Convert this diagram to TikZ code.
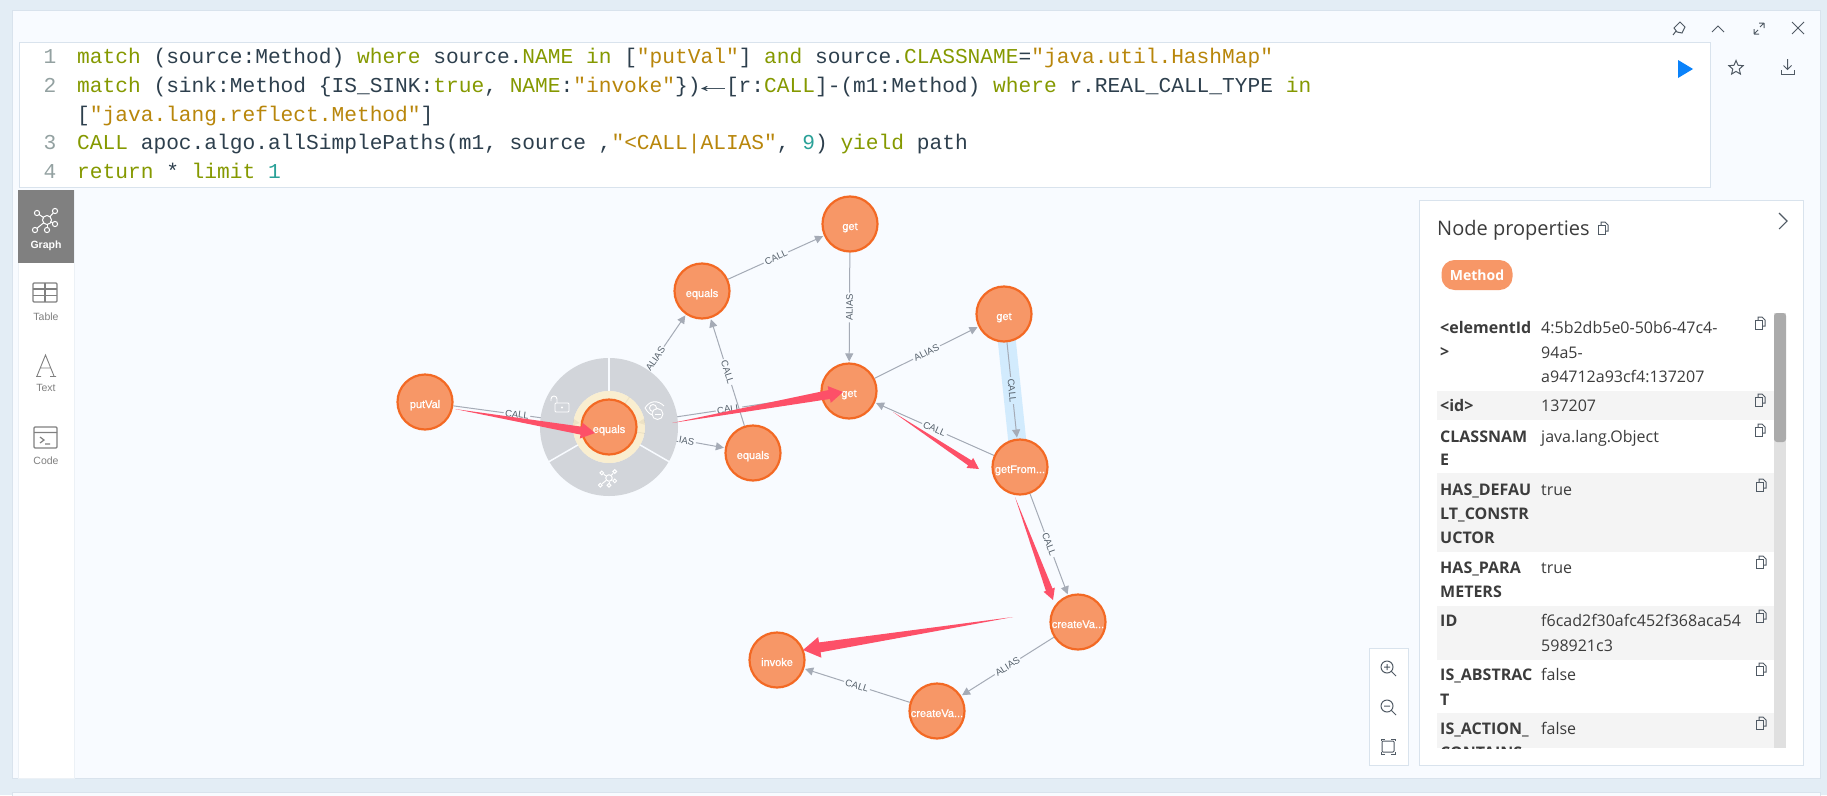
\documentclass[tikz,border=0pt]{standalone}
\usepackage{fontspec}
\setmainfont{Liberation Sans}
\newfontfamily\codefont{Liberation Mono}
\newfontfamily\opensans{Open Sans}
\newfontfamily\nodefont[FakeBold=0.9]{Liberation Sans}
\usetikzlibrary{arrows.meta,backgrounds,calc,shapes.geometric}
\definecolor{pagebg}{RGB}{227,237,245}
\definecolor{panelbg}{RGB}{248,251,255}
\definecolor{edgeline}{RGB}{217,227,237}
\definecolor{nodefill}{RGB}{247,151,103}
\definecolor{nodeline}{RGB}{243,105,36}
\definecolor{relline}{RGB}{165,171,182}
\definecolor{reltext}{RGB}{85,96,107}
\definecolor{bandblue}{RGB}{210,235,253}
\definecolor{trailred}{RGB}{253,80,104}
\definecolor{menugrey}{RGB}{210,213,218}
\definecolor{ringyellow}{RGB}{250,236,200}
\definecolor{kwgreen}{RGB}{133,153,0}
\definecolor{strorange}{RGB}{184,134,11}
\definecolor{numteal}{RGB}{42,161,152}
\definecolor{codedark}{RGB}{45,63,77}
\definecolor{gutter}{RGB}{147,161,161}
\definecolor{sidegrey}{RGB}{128,128,128}
\definecolor{iconc}{RGB}{80,90,100}
\definecolor{rowband}{RGB}{244,244,244}
\definecolor{tabletext}{RGB}{60,60,60}
\definecolor{playblue}{RGB}{10,130,250}
\newcommand{\ckw}[1]{\textcolor{kwgreen}{#1}}
\newcommand{\cstr}[1]{\textcolor{strorange}{#1}}
\newcommand{\cnum}[1]{\textcolor{numteal}{#1}}
\newcommand{\redtrail}[5]{%
  \coordinate (tb) at ($(#2)!#3pt!(#1)$);
  \fill[trailred] (#1) -- ($(tb)!#5pt!90:(#2)$) -- ($(tb)!#4pt!90:(#2)$) -- (#2)
    -- ($(tb)!#4pt!-90:(#2)$) -- ($(tb)!#5pt!-90:(#2)$) -- cycle;}
\tikzset{
  mnode/.style={circle,draw=nodeline,fill=nodefill,line width=2.2pt,minimum size=55pt,inner sep=0pt,
    text=white,text height=14pt,text depth=2pt,font=\nodefont\fontsize{11}{12}\selectfont},
  rel/.style={draw=relline,line width=1pt,shorten >=1pt,-{Triangle[length=8pt,width=8pt]}},
  rellabel/.style={midway,sloped,fill=panelbg,inner sep=1.5pt,text=reltext,font=\fontsize{9.5}{10}\selectfont},
  card/.style={fill=white,draw=edgeline,line width=.7pt},
  codeline/.style={anchor=base west,inner sep=0pt,text=codedark,font=\codefont\fontsize{21.2}{24}\selectfont},
  gutternum/.style={anchor=base,inner sep=0pt,text=gutter,font=\codefont\fontsize{21.2}{24}\selectfont},
  sidelabel/.style={inner sep=0pt,text=sidegrey,font=\fontsize{10.5}{12}\selectfont},
  tkey/.style={anchor=base west,inner sep=0pt,text=tabletext,font=\opensans\fontsize{16}{20}\selectfont\bfseries},
  tval/.style={anchor=base west,inner sep=0pt,text=tabletext,font=\opensans\fontsize{16}{20}\selectfont},
  copyicon/.pic={
    \draw[line width=1pt] (-2,-3) -- (-2,-6) -- (2,-6) -- (5,-3) -- (5,3) -- (2,3);
    \draw[line width=1pt] (-5,-3) rectangle (2,6);},
  graphicon/.pic={
    \foreach \gx/\gy in {-10/-7,8/-9,8/4,0/10,-12/10}{
      \draw[line width=1pt,shorten >=2.4pt,shorten <=3.8pt] (0,0) -- (\gx,\gy);
      \draw[line width=1pt] (\gx,\gy) circle[radius=2.6];}
    \draw[line width=1pt] (0,0) circle[radius=4.5];}
}
\begin{document}
\begin{tikzpicture}[x=1pt,y=-1pt]
  \useasboundingbox (0,0) rectangle (1827,795);
  \node[mnode] (putval) at (425,402) {putVal};
  \node[mnode] (equals1) at (609,427) {equals};
  \node[mnode] (equals2) at (753,453) {equals};
  \node[mnode] (equals3) at (702,291) {equals};
  \node[mnode] (get1) at (850,224) {get};
  \node[mnode] (get2) at (849,391) {get};
  \node[mnode] (get3) at (1004,314) {get};
  \node[mnode] (getfrom) at (1020,467) {getFrom...};
  \node[mnode] (create1) at (1078,622) {createVa...};
  \node[mnode] (create2) at (937,711) {createVa...};
  \node[mnode] (invoke) at (777,660) {invoke};
  \begin{scope}[on background layer]
    \fill[pagebg] (0,0) rectangle (1827,795);
    \fill[panelbg,draw=edgeline] (12,10) rectangle (1820,778);
    \fill[panelbg,draw=edgeline] (12,792) rectangle (1820,800);
    \draw[card] (19,42) rectangle (1710,187);
    \fill[white,draw=edgeline!50] (18,190) rectangle (74,778);
    \fill[sidegrey] (18,190) rectangle (74,263);
    \draw[card] (1419,200) rectangle (1803,765);
    \draw[card] (1369,648) rectangle (1408,765);
    \draw[bandblue,line width=18pt] (get3.center) -- (getfrom.center);
    \draw[rel] (putval) -- node[rellabel] {CALL} (equals1);
    \draw[rel] (get2) -- node[rellabel] {CALL} (equals1);
    \draw[rel] (equals1) -- node[rellabel] {ALIAS} (equals2);
    \draw[rel] (equals1) -- node[rellabel] {ALIAS} (equals3);
    \draw[rel] (equals2) -- node[rellabel] {CALL} (equals3);
    \draw[rel] (equals3) -- node[rellabel] {CALL} (get1);
    \draw[rel] (get1) -- node[rellabel] {ALIAS} (get2);
    \draw[rel] (get2) -- node[rellabel] {ALIAS} (get3);
    \draw[rel] (get3) -- node[rellabel,fill=bandblue] {CALL} (getfrom);
    \draw[rel] (getfrom) -- node[rellabel] {CALL} (get2);
    \draw[rel] (getfrom) -- node[rellabel] {CALL} (create1);
    \draw[rel] (create1) -- node[rellabel] {ALIAS} (create2);
    \draw[rel] (create2) -- node[rellabel] {CALL} (invoke);
    \fill[menugrey,even odd rule] (equals1.center) circle[radius=69] (equals1.center) circle[radius=36];
    \fill[ringyellow,opacity=.85,even odd rule] (equals1.center) circle[radius=36] (equals1.center) circle[radius=28];
    \foreach \menua in {-90,30,150}
      \draw[panelbg,line width=1.5pt] ($(equals1.center)+(\menua:36)$) -- ($(equals1.center)+(\menua:70)$);
  \end{scope}
  \draw[white,line width=.9pt,rounded corners=1pt] (555,403) rectangle (569,412);
  \draw[white,line width=.9pt] (557,403) -- (557,399) arc[start angle=0,end angle=-180,radius=3] -- (551,401);
  \fill[white] (562,407.5) circle[radius=1.2];
  \draw[white,line width=.9pt] (645,408) .. controls (650,400) and (658,400) .. (664,406);
  \draw[white,line width=.9pt] (645,408) .. controls (648,413) and (651,415) .. (653,415);
  \draw[white,line width=.9pt] (653,408) circle[radius=3.5];
  \draw[white,line width=.9pt,fill=menugrey] (657.5,414) circle[radius=5.5];
  \draw[white,line width=.9pt] (654.5,414) -- (660.5,414);
  \pic[color=white,scale=.72] at (609,478) {graphicon};
  \coordinate (t1a) at (455,409);
  \coordinate (t1b) at (595,433);
  \coordinate (t2a) at (672,423);
  \coordinate (t2b) at (843,392);
  \coordinate (t3a) at (893,412);
  \coordinate (t3b) at (979,469);
  \coordinate (t4a) at (1015,497);
  \coordinate (t4b) at (1053,600);
  \coordinate (t5a) at (1013,617);
  \coordinate (t5b) at (803,650);
  \redtrail{t1a}{t1b}{14}{8}{4}
  \redtrail{t2a}{t2b}{14}{8.5}{4.5}
  \redtrail{t3a}{t3b}{11}{6}{3}
  \redtrail{t4a}{t4b}{11}{6}{3.5}
  \redtrail{t5a}{t5b}{17}{10.5}{5}
  \node[gutternum] (num1) at (50,63) {1};
  \node[gutternum] (num2) at (50,92) {2};
  \node[gutternum] (num3) at (50,149) {3};
  \node[gutternum] (num4) at (50,178) {4};
  \node[codeline] (line1) at (77,63) {\ckw{match} (source:Method) \ckw{where} source.\ckw{NAME} \ckw{in} [\cstr{"putVal"}] \ckw{and} source.\ckw{CLASSNAME}=\cstr{"java.util.HashMap"}};
  \node[codeline] (line2) at (77,92) {\ckw{match} (sink:Method \{IS\_SINK:\ckw{true}, \ckw{NAME}:\cstr{"invoke"}\})\makebox[25.44pt][c]{\scalebox{1.9}[1]{←}}[r:\ckw{CALL}]-(m1:Method) \ckw{where} r.REAL\_CALL\_TYPE \ckw{in}};
  \node[codeline] (line2b) at (77,121) {[\cstr{"java.lang.reflect.Method"}]};
  \node[codeline] (line3) at (77,149) {\ckw{CALL} apoc.algo.allSimplePaths(m1, source ,\cstr{"<CALL|ALIAS"}, \cnum{9}) \ckw{yield} path};
  \node[codeline] (line4) at (77,178) {\ckw{return} * \ckw{limit} \cnum{1}};
  \fill[playblue] (1678,60) -- (1693,69) -- (1678,78) -- cycle;
  \node[star,star points=5,star point ratio=2.2,draw=iconc,line width=1pt,minimum size=15pt,inner sep=0pt] (staricon) at (1736,68) {};
  \draw[iconc,line width=1pt] (1787.5,59) -- (1787.5,69) (1783.5,65.5) -- (1787.5,69.5) -- (1791.5,65.5);
  \draw[iconc,line width=1pt] (1781,70) -- (1781,74) -- (1794,74) -- (1794,70);
  \draw[iconc,line width=1pt] (1680,22) -- (1685,27) -- (1682,33) -- (1677,32) -- (1674,28) -- cycle (1676,31) -- (1673,35);
  \draw[iconc,line width=1pt] (1712,32) -- (1718,26) -- (1724,32);
  \draw[iconc,line width=1pt] (1754,34) -- (1754,29) (1754,34) -- (1759,34) (1754,34) -- (1758,30);
  \draw[iconc,line width=1pt] (1764,23) -- (1764,28) (1764,23) -- (1759,23) (1764,23) -- (1760,27);
  \draw[iconc,line width=1pt] (1792,22) -- (1804,34) (1804,22) -- (1792,34);
  \pic[color=white] at (47,220) {graphicon};
  \node[sidelabel,text=white,font=\fontsize{10.5}{12}\selectfont\bfseries] (sidegraph) at (46,246) {Graph};
  \draw[sidegrey,line width=1.3pt,rounded corners=1pt] (33,283) rectangle (57,302);
  \draw[sidegrey,line width=1.3pt] (33,289) -- (57,289) (33,295.5) -- (57,295.5) (45,283) -- (45,302);
  \node[sidelabel] (sidetable) at (46,317) {Table};
  \draw[sidegrey,line width=.9pt] (37,376) -- (45.5,355) -- (54,376) (40,368) -- (51,368) (36,376.5) -- (41,376.5) (50,376.5) -- (56,376.5);
  \node[sidelabel] (sidetext) at (46,388) {Text};
  \draw[sidegrey,line width=1.3pt,rounded corners=1pt] (34,427) rectangle (57,448);
  \draw[sidegrey,line width=1.2pt] (34,432.5) -- (57,432.5) (40,437) -- (44,440) -- (40,443) (45,444) -- (50,444);
  \node[sidelabel] (sidecode) at (46,461) {Code};
  \node[anchor=base west,inner sep=0pt,text=tabletext,font=\opensans\fontsize{20}{24}\selectfont] (proptitle) at (1437,235) {Node properties};
  \pic[color=iconc] at (1603,228) {copyicon};
  \draw[iconc,line width=1.1pt] (1779,213) -- (1787,221) -- (1779,229);
  \node[fill=nodefill,rounded corners=13pt,minimum width=71pt,minimum height=30pt,inner sep=0pt,text=white,font=\opensans\fontsize{14}{16}\selectfont\bfseries] (methodpill) at (1477,275) {Method};
  \foreach \bandt/\bandb in {391/420,473/552,606/660,713/748}
    \fill[rowband] (1437,\bandt) rectangle (1774,\bandb);
  \fill[black!12] (1774,313) rectangle (1786,748);
  \fill[black!33,rounded corners=3pt] (1774,313) rectangle (1786,442);
  \foreach \rowy/\rowkey [count=\i] in {333/<elementId,357/>,411/<id>,442/CLASSNAM,465/E,495/HAS\_DEFAU,519/LT\_CONSTR,543/UCTOR,573/HAS\_PARA,597/METERS,626/ID,680/IS\_ABSTRAC,705/T,734/IS\_ACTION\_}
    \node[tkey] (key\i) at (1440,\rowy) {\rowkey};
  \begin{scope}
    \clip (1437,700) rectangle (1774,748);
    \node[tkey] (keylast) at (1440,758) {CONTAINS};
  \end{scope}
  \foreach \rowy/\rowval [count=\i] in {333/4:5b2db5e0-50b6-47c4-,358/94a5-,382/a94712a93cf4:137207,411/137207,442/java.lang.Object,495/true,573/true,626/f6cad2f30afc452f368aca54,651/598921c3,680/false,734/false}
    \node[tval] (val\i) at (1541,\rowy) {\rowval};
  \foreach \iconx/\icony in {1760/323,1760/400,1760/430,1761/485,1761/562,1761/616,1761/669,1761/723}
    \pic[color=iconc] at (\iconx,\icony) {copyicon};
  \draw[iconc,line width=1pt] (1387,667) circle[radius=6] (1391.5,671.5) -- (1396,676) (1384,667) -- (1390,667) (1387,664) -- (1387,670);
  \draw[iconc,line width=1pt] (1387,706) circle[radius=6] (1391.5,710.5) -- (1396,715) (1384,706) -- (1390,706);
  \draw[iconc,line width=1pt,rounded corners=1pt] (1382,741) rectangle (1394,752);
  \draw[iconc,line width=1pt] (1381,741) -- (1381,739) -- (1385,739) (1391,739) -- (1395,739) -- (1395,741) (1395,752) -- (1395,754) -- (1391,754) (1385,754) -- (1381,754) -- (1381,752);
\end{tikzpicture}
\end{document}
